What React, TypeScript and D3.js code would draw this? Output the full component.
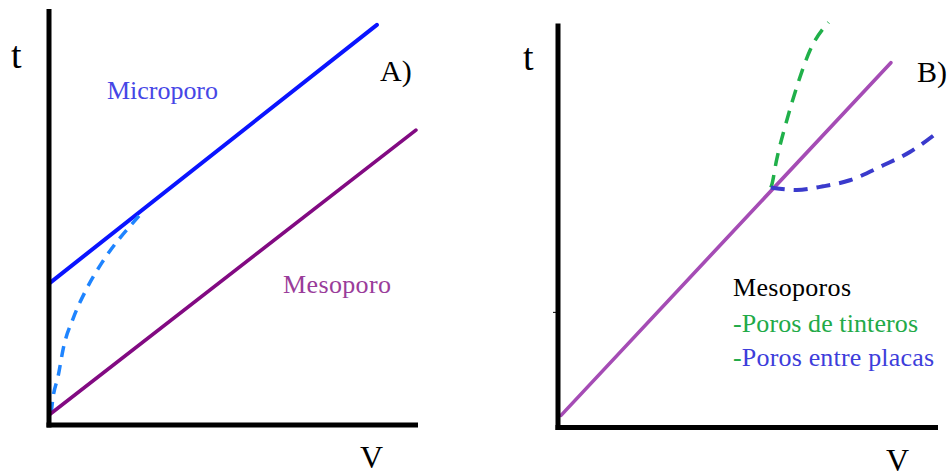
import React from "react";
import * as d3 from "d3";

// ---- Data (domain units 0..100 on both axes for each panel) ----
type P = [number, number];

// Panel A
const microporoLine: P[] = [[0, 34], [89.1, 96.2]];
const mesoporoLineA: P[] = [[0, 2.4], [99.7, 70.9]];
const microporoCurve: P[] = [
  [0.6, 2.9], [1.0, 6.0], [2.5, 11.8], [3.9, 18.5], [6.6, 25.7], [10.2, 32.7],
  [14.3, 38.9], [19.3, 45.0], [22.8, 48.6], [25.2, 51.0],
];

// Panel B
const mesoporoLineB: P[] = [[0.8, 3], [87.6, 90.3]];
const tinterosCurve: P[] = [
  [56, 59.4], [56.2, 59.9], [57.5, 66.1], [60.2, 76], [62.8, 84.2], [66.3, 93.3], [71.2, 100.3],
];
const placasCurve: P[] = [
  [56, 59.4], [56.7, 59.3], [62.8, 58.8], [69.8, 59.7], [76.8, 61.2], [85.6, 64.9], [92.6, 68.2], [100.5, 73.5],
];
const minorTickB: number[] = [28.5];

const labelsA = { y: "t", x: "V", panel: "A)", micro: "Microporo", meso: "Mesoporo" };
const labelsB = { y: "t", x: "V", panel: "B)", title: "Mesoporos", dash: "-", ink: "Poros de tinteros", plates: "Poros entre placas" };

const FONT = "'Liberation Serif', 'Times New Roman', Times, serif";
const T = { fontFamily: FONT } as React.CSSProperties;

export default function App() {
  // Panel A scales
  const xA = d3.scaleLinear().domain([0, 100]).range([49, 417]);
  const yA = d3.scaleLinear().domain([0, 100]).range([425, 9]);
  // Panel B scales
  const xB = d3.scaleLinear().domain([0, 100]).range([558, 938]);
  const yB = d3.scaleLinear().domain([0, 100]).range([427.5, 23.5]);

  const lineA = d3.line<P>().x((d) => xA(d[0])).y((d) => yA(d[1]));
  const curveA = d3.line<P>().x((d) => xA(d[0])).y((d) => yA(d[1])).curve(d3.curveMonotoneX);
  const lineB = d3.line<P>().x((d) => xB(d[0])).y((d) => yB(d[1]));
  const curveB = d3.line<P>().x((d) => xB(d[0])).y((d) => yB(d[1])).curve(d3.curveMonotoneX);

  const [ax0, ax1] = xA.range();
  const [ay0, ay1] = yA.range();
  const [bx0, bx1] = xB.range();
  const [by0, by1] = yB.range();

  return (
    <svg
      width={948}
      height={474}
      style={{ position: "absolute", left: 0, top: 0, background: "#fff", fontFamily: FONT }}
    >
      <rect width={948} height={474} fill="#fff" />
      {/* ---------- Panel A ---------- */}
      <g>
        <path d={lineA(microporoLine)!} fill="none" stroke="#0a14ff" strokeWidth={4} strokeLinecap="round" />
        <path d={curveA(microporoCurve)!} fill="none" stroke="#1e84ff" strokeWidth={3.5} strokeDasharray="11 8" />
        <path d={lineA(mesoporoLineA)!} fill="none" stroke="#820a82" strokeWidth={3.6} strokeLinecap="round" />
        <line x1={ax0} y1={ay1} x2={ax0} y2={ay0 + 2.5} stroke="#000" strokeWidth={5} />
        <line x1={ax0 - 2.5} y1={ay0} x2={ax1 + 1} y2={ay0} stroke="#000" strokeWidth={5} />
        <text style={T} x={11} y={68} fontSize={38} fill="#000">{labelsA.y}</text>
        <text style={T} x={360} y={468} fontSize={32} fill="#000">{labelsA.x}</text>
        <text style={T} x={380} y={81} fontSize={30} fill="#000">{labelsA.panel}</text>
        <text style={T} x={107} y={99} fontSize={26} fill="#4646e6" textLength={111}>{labelsA.micro}</text>
        <text style={T} x={283} y={293} fontSize={26} fill="#9a3c9a" textLength={108}>{labelsA.meso}</text>
      </g>
      {/* ---------- Panel B ---------- */}
      <g>
        <path d={lineB(mesoporoLineB)!} fill="none" stroke="#a54cb5" strokeWidth={3.6} strokeLinecap="round" />
        <path d={curveB(tinterosCurve)!} fill="none" stroke="#20b04a" strokeWidth={3.5} strokeDasharray="13 9" />
        <path d={curveB(placasCurve)!} fill="none" stroke="#3a3acc" strokeWidth={4} strokeDasharray="14 9" />
        <line x1={bx0} y1={by1} x2={bx0} y2={by0 + 2.5} stroke="#000" strokeWidth={5} />
        <line x1={bx0 - 2.5} y1={by0} x2={bx1} y2={by0} stroke="#000" strokeWidth={5} />
        {minorTickB.map((v) => (
          <line key={v} x1={bx0 - 5} x2={bx0} y1={yB(v)} y2={yB(v)} stroke="#000" strokeWidth={1} />
        ))}
        <text style={T} x={523} y={70} fontSize={38} fill="#000">{labelsB.y}</text>
        <text style={T} x={886} y={471} fontSize={32} fill="#000">{labelsB.x}</text>
        <text style={T} x={917} y={82} fontSize={30} fill="#000">{labelsB.panel}</text>
        <text style={T} x={733} y={296} fontSize={26} fill="#000" textLength={118}>{labelsB.title}</text>
        <text style={T} x={733} y={332} fontSize={26} textLength={185}>
          <tspan style={T} fill="#22aa48">{labelsB.dash}</tspan>
          <tspan style={T} fill="#22aa48">{labelsB.ink}</tspan>
        </text>
        <text style={T} x={733} y={366} fontSize={26} textLength={201}>
          <tspan style={T} fill="#22aa48">{labelsB.dash}</tspan>
          <tspan style={T} fill="#3d3ddb">{labelsB.plates}</tspan>
        </text>
      </g>
    </svg>
  );
}
